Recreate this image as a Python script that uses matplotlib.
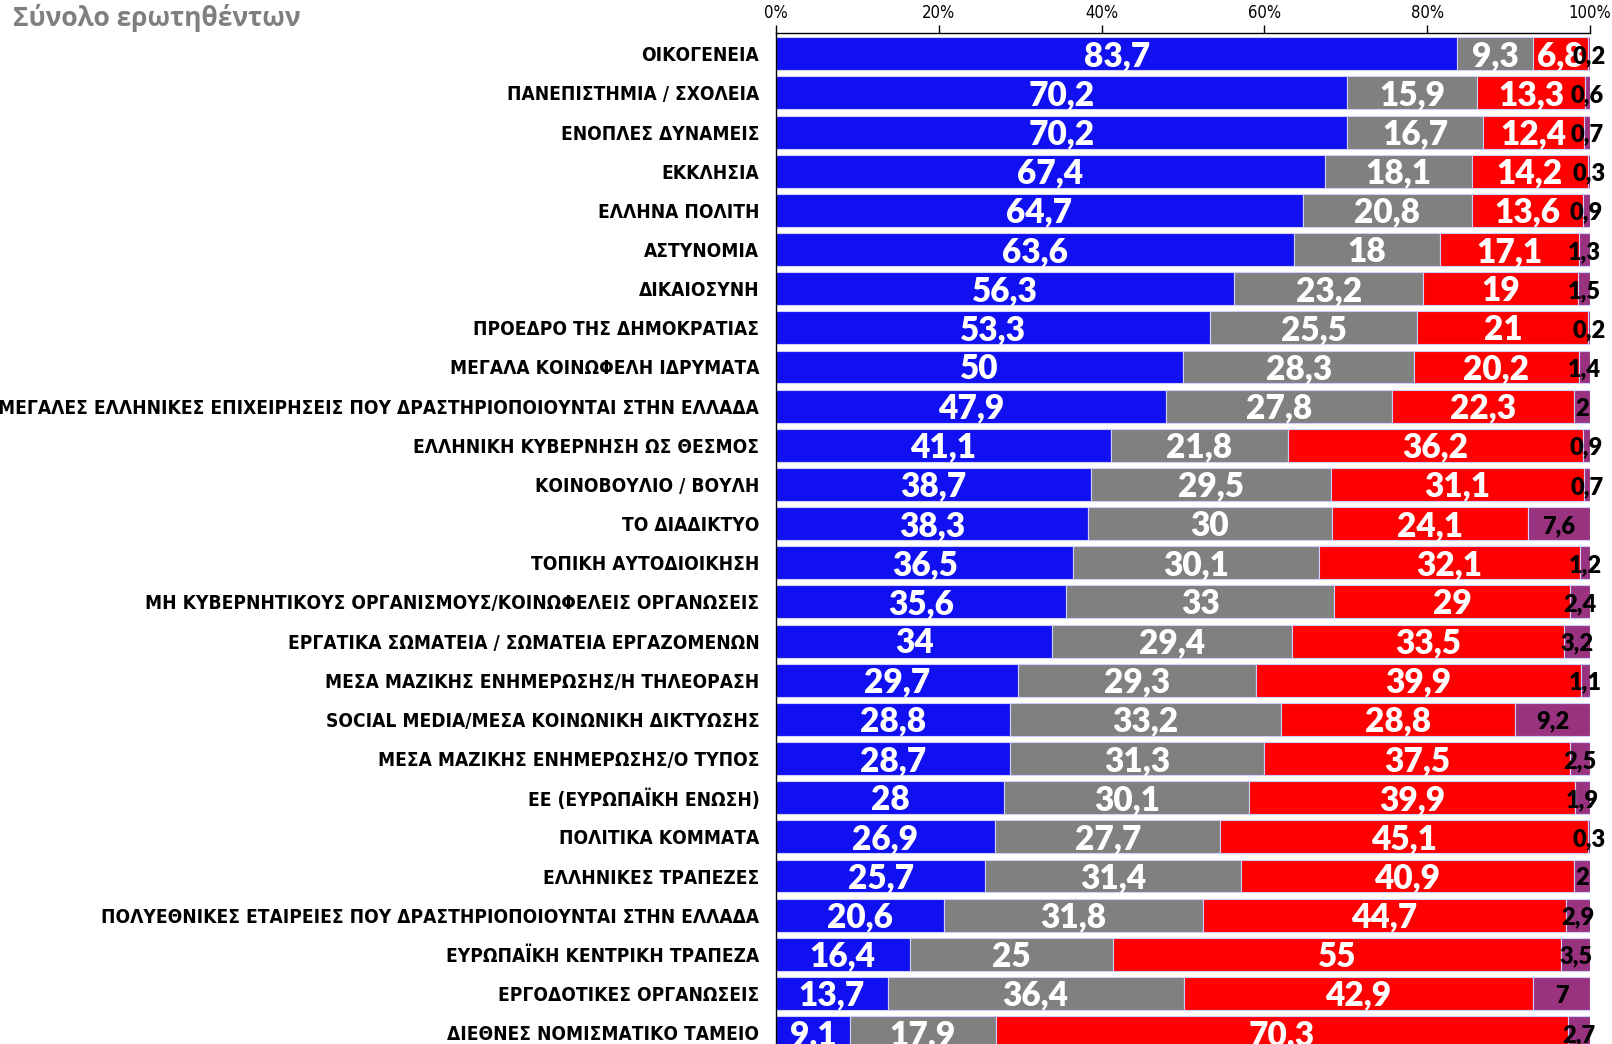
import matplotlib.pyplot as plt
import numpy as np

# κατηγορίες (από πάνω προς τα κάτω)
categories = [
    'ΟΙΚΟΓΕΝΕΙΑ',
    'ΠΑΝΕΠΙΣΤΗΜΙΑ / ΣΧΟΛΕΙΑ',
    'ΕΝΟΠΛΕΣ ΔΥΝΑΜΕΙΣ',
    'ΕΚΚΛΗΣΙΑ',
    'ΕΛΛΗΝΑ ΠΟΛΙΤΗ',
    'ΑΣΤΥΝΟΜΙΑ',
    'ΔΙΚΑΙΟΣΥΝΗ',
    'ΠΡΟΕΔΡΟ ΤΗΣ ΔΗΜΟΚΡΑΤΙΑΣ',
    'ΜΕΓΑΛΑ ΚΟΙΝΩΦΕΛΗ ΙΔΡΥΜΑΤΑ',
    'ΜΕΓΑΛΕΣ ΕΛΛΗΝΙΚΕΣ ΕΠΙΧΕΙΡΗΣΕΙΣ ΠΟΥ ΔΡΑΣΤΗΡΙΟΠΟΙΟΥΝΤΑΙ ΣΤΗΝ ΕΛΛΑΔΑ',
    'ΕΛΛΗΝΙΚΗ ΚΥΒΕΡΝΗΣΗ ΩΣ ΘΕΣΜΟΣ',
    'ΚΟΙΝΟΒΟΥΛΙΟ / ΒΟΥΛΗ',
    'ΤΟ ΔΙΑΔΙΚΤΥΟ',
    'ΤΟΠΙΚΗ ΑΥΤΟΔΙΟΙΚΗΣΗ',
    'ΜΗ ΚΥΒΕΡΝΗΤΙΚΟΥΣ ΟΡΓΑΝΙΣΜΟΥΣ/ΚΟΙΝΩΦΕΛΕΙΣ ΟΡΓΑΝΩΣΕΙΣ',
    'ΕΡΓΑΤΙΚΑ ΣΩΜΑΤΕΙΑ / ΣΩΜΑΤΕΙΑ ΕΡΓΑΖΟΜΕΝΩΝ',
    'ΜΕΣΑ ΜΑΖΙΚΗΣ ΕΝΗΜΕΡΩΣΗΣ/Η ΤΗΛΕΟΡΑΣΗ',
    'SOCIAL MEDIA/ΜΕΣΑ ΚΟΙΝΩΝΙΚΗ ΔΙΚΤΥΩΣΗΣ',
    'ΜΕΣΑ ΜΑΖΙΚΗΣ ΕΝΗΜΕΡΩΣΗΣ/Ο ΤΥΠΟΣ',
    'ΕΕ (ΕΥΡΩΠΑΪΚΗ ΕΝΩΣΗ)',
    'ΠΟΛΙΤΙΚΑ ΚΟΜΜΑΤΑ',
    'ΕΛΛΗΝΙΚΕΣ ΤΡΑΠΕΖΕΣ',
    'ΠΟΛΥΕΘΝΙΚΕΣ ΕΤΑΙΡΕΙΕΣ ΠΟΥ ΔΡΑΣΤΗΡΙΟΠΟΙΟΥΝΤΑΙ ΣΤΗΝ ΕΛΛΑΔΑ',
    'ΕΥΡΩΠΑΪΚΗ ΚΕΝΤΡΙΚΗ ΤΡΑΠΕΖΑ',
    'ΕΡΓΟΔΟΤΙΚΕΣ ΟΡΓΑΝΩΣΕΙΣ',
    'ΔΙΕΘΝΕΣ ΝΟΜΙΣΜΑΤΙΚΟ ΤΑΜΕΙΟ',
]

trust = [83.7, 70.2, 70.2, 67.4, 64.7, 63.6, 56.3, 53.3, 50, 47.9, 41.1, 38.7, 38.3,
         36.5, 35.6, 34, 29.7, 28.8, 28.7, 28, 26.9, 25.7, 20.6, 16.4, 13.7, 9.1]
neutral = [9.3, 15.9, 16.7, 18.1, 20.8, 18, 23.2, 25.5, 28.3, 27.8, 21.8, 29.5, 30,
           30.1, 33, 29.4, 29.3, 33.2, 31.3, 30.1, 27.7, 31.4, 31.8, 25, 36.4, 17.9]
distrust = [6.8, 13.3, 12.4, 14.2, 13.6, 17.1, 19, 21, 20.2, 22.3, 36.2, 31.1, 24.1,
            32.1, 29, 33.5, 39.9, 28.8, 37.5, 39.9, 45.1, 40.9, 44.7, 55, 42.9, 70.3]
no_answer = [0.2, 0.6, 0.7, 0.3, 0.9, 1.3, 1.5, 0.2, 1.4, 2, 0.9, 0.7, 7.6,
             1.2, 2.4, 3.2, 1.1, 9.2, 2.5, 1.9, 0.3, 2, 2.9, 3.5, 7, 2.7]

series = [trust, neutral, distrust, no_answer]
colors = ['#1010f0', '#808080', '#ff0000', '#993380']
label_colors = ['white', 'white', 'white', 'black']
label_sizes = [24, 24, 24, 17]

W, H = 1612, 1044
fig = plt.figure(figsize=(W / 100, H / 100), dpi=100)
ax = fig.add_axes([776 / W, 0, (1590 - 776) / W, 1 - 33 / H])

y = np.arange(len(categories))
totals = np.sum(np.array(series), axis=0)
left = np.zeros(len(categories))
for vals, c, lc, ls in zip(series, colors, label_colors, label_sizes):
    vals = np.array(vals, dtype=float)
    width = vals / totals * 100  # 100% stacked όπως στο Excel
    ax.barh(y, width, left=left, height=0.84, color=c,
            edgecolor='#d0d0ff', linewidth=0.8)
    for yi, l, w, v in zip(y, left, width, vals):
        ax.text(l + w / 2, yi + 0.06, f'{v:g}'.replace('.', ','),
                ha='center', va='center', color=lc, fontsize=ls,
                fontweight='heavy', fontfamily='Lato')
    left += width

ax.set_xlim(0, 100)
ax.set_ylim(25.29, -0.53)

ax.xaxis.tick_top()
ax.set_xticks(np.arange(0, 101, 20))
ax.set_xticklabels([f'{t}%' for t in range(0, 101, 20)],
                   fontsize=12, fontfamily='DejaVu Sans', fontstretch='condensed')
ax.tick_params(axis='x', length=6, width=1, pad=2, colors='black')

ax.set_yticks(y)
ax.set_yticklabels(categories, fontsize=13.7, fontweight='bold',
                   fontfamily='DejaVu Sans', fontstretch='condensed')
ax.tick_params(axis='y', length=0, pad=12)

for s in ['right', 'bottom']:
    ax.spines[s].set_visible(False)
ax.spines['top'].set_linewidth(1)
ax.spines['left'].set_linewidth(1)

fig.text(13 / W, 1 - 18 / H, 'Σύνολο ερωτηθέντων', fontsize=19, fontweight='bold',
         color='#7f7f7f', fontfamily='Open Sans', va='center', ha='left')

fig.savefig('out.png', dpi=100)
